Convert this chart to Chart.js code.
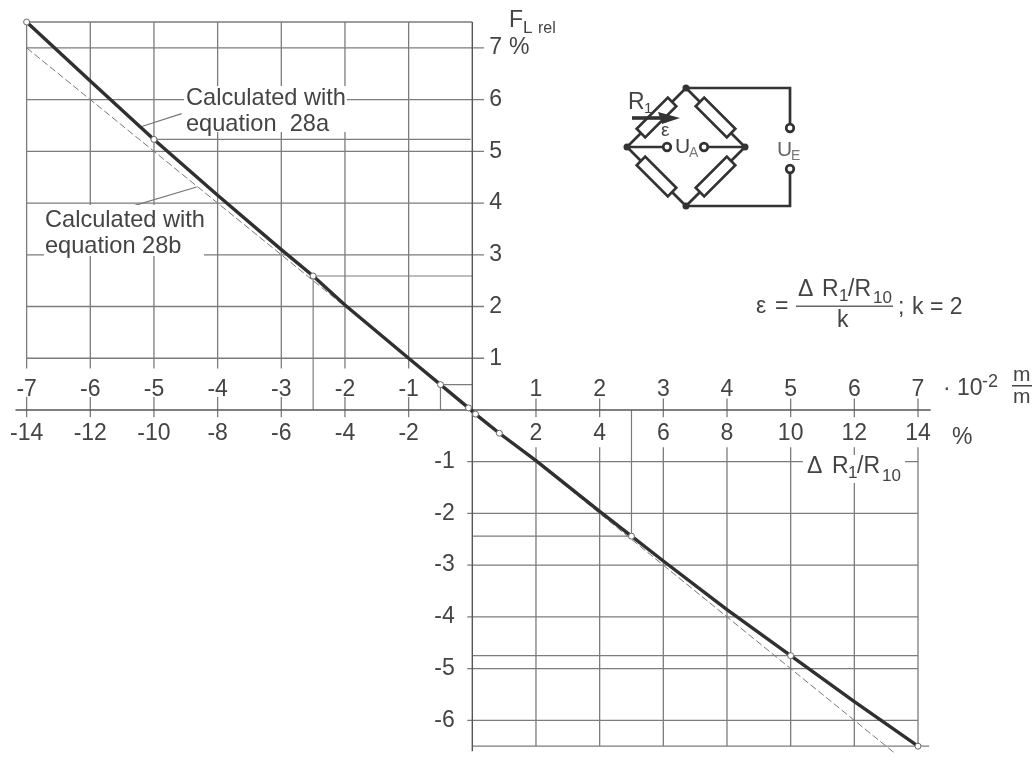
<!DOCTYPE html>
<html>
<head>
<meta charset="utf-8">
<style>
    html, body { margin: 0; padding: 0; background: #fff; }
    canvas { display: block; }
</style>
<script src="https://cdn.jsdelivr.net/npm/chart.js@4/dist/chart.umd.min.js"></script>
</head>
<body>
<canvas id="chart_bridge" width="1036" height="760"></canvas>
<script>
'use strict';

/******************************************************************************************
DATA
******************************************************************************************/

// tick labels: resistance change in %, strain in 10^-2 m/m, relative error in %
var percent_ticks = [-14, -12, -10, -8, -6, -4, -2, 2, 4, 6, 8, 10, 12, 14];
var strain_ticks = [-7, -6, -5, -4, -3, -2, -1, 1, 2, 3, 4, 5, 6, 7];
var error_ticks_up = [1, 2, 3, 4, 5, 6, 7];
var error_ticks_down = [-1, -2, -3, -4, -5, -6];

// equation 28a, thick curve
var curve_x = [-14, -12, -10, -8, -6, -5, -4, -2, -1, -0.12, 0.1, 0.85, 2, 4, 5, 6, 8, 10, 12, 14];
var curve_y = [7.5, 6.36, 5.23, 4.15, 3.1, 2.59, 2.03, 1.0, 0.49, 0.04, -0.08, -0.45, -0.98, -1.96, -2.44, -2.92, -3.86, -4.75, -5.64, -6.5];

// equation 28b, thin dashed line
var dashed_x = [-14, 13.3];
var dashed_y = [7, -6.65];

// small open circles on the curve
var mark_x = [-14, -10, -5, -1, -0.12, 0.1, 0.85, 5, 10, 14];
var mark_y = [7.5, 5.23, 2.59, 0.49, 0.04, -0.08, -0.45, -2.44, -4.75, -6.5];

// thin lines from the marked points to the axes
var drop_lines = [
    [-10, 5.23, -0.05, 5.23],
    [-5, 2.59, 0, 2.59],
    [-5, 2.59, -5, 0],
    [-1, 0.49, 0, 0.49],
    [-1, 0.49, -1, 0],
    [0, -2.44, 5, -2.44],
    [5, -2.44, 5, 0],
    [0, -4.75, 14, -4.75]
];

// leader lines of the two notes
var leader_lines = [
    [-9.13, 5.73, -10.48, 5.46],
    [-8.66, 4.31, -10.73, 3.93]
];

/******************************************************************************************
HELPERS
******************************************************************************************/

var text_color = '#444';
var font_name = '"Liberation Sans", Arial, sans-serif';

function to_points(xs, ys) {
    return xs.map(function(x, i) { return {x: x, y: ys[i]}; });
}

// list of [x1, y1, x2, y2] to points with gaps between the pieces
function segments(list) {
    var points = [];
    list.forEach(function(s) {
        points.push({x: s[0], y: s[1]}, {x: s[2], y: s[3]}, {x: null, y: null});
    });
    return points;
}

function line_set(data, color, width) {
    return {data: data, showLine: true, borderColor: color, borderWidth: width, pointRadius: 0, clip: false, spanGaps: false, tension: 0};
}

function fixed_ticks(list) {
    return function(scale) {
        scale.ticks = list.map(function(v) { return {value: v}; });
    };
}

// axes sit inside the plot, they take no room of their own
function no_width(scale) { scale.width = 0; }
function no_height(scale) { scale.height = 0; }

function tick_options(pad) {
    return {
        autoSkip: false,
        maxRotation: 0,
        minRotation: 0,
        padding: pad,
        color: text_color,
        font: {family: font_name, size: 23},
        callback: function(value) { return String(value); }
    };
}

function axis_base(min, max, position, list, fit, pad) {
    return {
        type: 'linear',
        min: min,
        max: max,
        position: position,
        grid: {display: false, drawTicks: false},
        border: {display: false},
        afterBuildTicks: fixed_ticks(list),
        afterFit: fit,
        ticks: tick_options(pad)
    };
}

/******************************************************************************************
GRID
******************************************************************************************/

var grid_pieces = [];
var top_value = 7.5;
var bottom_value = -6.5;

percent_ticks.forEach(function(x) {
    if (x < 0) {
        grid_pieces.push([x, top_value, x, 0.8]);
        grid_pieces.push([x, 0.25, x, -0.14]);
    } else {
        grid_pieces.push([x, 0.22, x, -0.14]);
        grid_pieces.push([x, -0.72, x, bottom_value]);
    }
});
error_ticks_up.forEach(function(y) {
    grid_pieces.push([-14, y, 0.37, y]);
});
error_ticks_down.forEach(function(y) {
    grid_pieces.push([-0.16, y, 14, y]);
});
grid_pieces.push([-14, top_value, 0, top_value]);
grid_pieces.push([0, bottom_value, 14.35, bottom_value]);

var axis_pieces = [
    [-14.35, 0, 14.4, 0],
    [0, top_value, 0, -6.6]
];

/******************************************************************************************
NOTES AND BRIDGE SKETCH
******************************************************************************************/

function put_text(ctx, str, x, y, size, color) {
    ctx.font = size + 'px ' + font_name;
    ctx.fillStyle = color || text_color;
    ctx.textAlign = 'left';
    ctx.textBaseline = 'alphabetic';
    ctx.fillText(str, x, y);
}

function white_box(ctx, x, y, w, h) {
    ctx.fillStyle = '#fff';
    ctx.fillRect(x, y, w, h);
}

function draw_resistor(ctx, cx, cy, angle) {
    ctx.save();
    ctx.translate(cx, cy);
    ctx.rotate(angle);
    ctx.fillStyle = '#fff';
    ctx.fillRect(-22, -6, 44, 12);
    ctx.strokeRect(-22, -6, 44, 12);
    ctx.restore();
}

function draw_dot(ctx, x, y, r, open) {
    ctx.beginPath();
    ctx.arc(x, y, r, 0, Math.PI * 2);
    if (open) {
        ctx.fillStyle = '#fff';
        ctx.fill();
        ctx.stroke();
    } else {
        ctx.fillStyle = '#333';
        ctx.fill();
    }
}

function draw_bridge(ctx) {
    ctx.save();
    ctx.strokeStyle = '#333';
    ctx.lineWidth = 2.7;

    // diamond and supply wires
    ctx.beginPath();
    ctx.moveTo(686, 88); ctx.lineTo(627, 147); ctx.lineTo(686, 206); ctx.lineTo(745, 147); ctx.closePath();
    ctx.moveTo(686, 88); ctx.lineTo(790, 88); ctx.lineTo(790, 128);
    ctx.moveTo(686, 206); ctx.lineTo(790, 206); ctx.lineTo(790, 169);
    ctx.moveTo(627, 147); ctx.lineTo(667, 147);
    ctx.moveTo(704, 147); ctx.lineTo(745, 147);
    ctx.stroke();

    draw_resistor(ctx, 656.5, 117.5, -Math.PI / 4);
    draw_resistor(ctx, 715.5, 117.5, Math.PI / 4);
    draw_resistor(ctx, 656.5, 176.5, Math.PI / 4);
    draw_resistor(ctx, 715.5, 176.5, -Math.PI / 4);

    draw_dot(ctx, 686, 88, 3.5, false);
    draw_dot(ctx, 686, 206, 3.5, false);
    draw_dot(ctx, 627, 147, 3.5, false);
    draw_dot(ctx, 745, 147, 3.5, false);
    draw_dot(ctx, 667, 147, 3.8, true);
    draw_dot(ctx, 704, 147, 3.8, true);
    draw_dot(ctx, 790, 128, 3.8, true);
    draw_dot(ctx, 790, 169, 3.8, true);

    // arrow over R1
    ctx.lineWidth = 3.6;
    ctx.beginPath();
    ctx.moveTo(632, 118); ctx.lineTo(664, 118);
    ctx.stroke();
    ctx.fillStyle = '#333';
    ctx.beginPath();
    ctx.moveTo(680, 118); ctx.lineTo(658, 112); ctx.lineTo(662, 124); ctx.closePath();
    ctx.fill();
    ctx.restore();

    put_text(ctx, 'R', 628, 109, 23);
    put_text(ctx, '1', 644, 113, 15);
    put_text(ctx, '\u03b5', 661, 136, 19);
    put_text(ctx, 'U', 675, 153, 21);
    put_text(ctx, 'A', 689, 157, 14, '#777');
    put_text(ctx, 'U', 777, 156, 21, '#666');
    put_text(ctx, 'E', 791, 160, 14, '#777');
}

function draw_notes(ctx) {
    // notes sit on white patches that cut the grid
    white_box(ctx, 184, 86, 163, 46);
    put_text(ctx, 'Calculated with', 186, 105, 23.6);
    put_text(ctx, 'equation  28a', 186, 131, 23.6);

    white_box(ctx, 44, 205, 160, 51);
    put_text(ctx, 'Calculated with', 45, 227, 23.6);
    put_text(ctx, 'equation 28b', 45, 253, 23.6);

    white_box(ctx, 803, 455, 102, 28);
    put_text(ctx, '\u0394', 807, 473, 23);
    put_text(ctx, 'R', 832, 473, 23);
    put_text(ctx, '1', 848, 478, 17);
    put_text(ctx, '/R', 857, 473, 23);
    put_text(ctx, '10', 882, 481, 17);

    // vertical axis title
    put_text(ctx, 'F', 509, 27, 23);
    put_text(ctx, 'L', 523, 33, 17);
    put_text(ctx, 'rel', 538, 33, 16);
    put_text(ctx, '%', 509, 54, 23);

    // strain unit on the right
    put_text(ctx, '\u00b7', 943, 395, 23);
    put_text(ctx, '10', 957, 395, 23);
    put_text(ctx, '-2', 982, 387, 18);
    put_text(ctx, 'm', 1013, 381, 21);
    put_text(ctx, 'm', 1013, 403, 21);
    put_text(ctx, '%', 952, 444, 23);
    ctx.fillStyle = text_color;
    ctx.fillRect(1012, 385, 20, 1.5);

    // formula
    put_text(ctx, '\u03b5', 756, 313, 23);
    put_text(ctx, '=', 775, 313, 23);
    put_text(ctx, '\u0394', 798, 296, 23);
    put_text(ctx, 'R', 822, 296, 23);
    put_text(ctx, '1', 839, 301, 17);
    put_text(ctx, '/R', 848, 296, 23);
    put_text(ctx, '10', 873, 303, 17);
    ctx.fillStyle = '#666';
    ctx.fillRect(796, 305.5, 97, 1.5);
    put_text(ctx, 'k', 837, 327, 23);
    put_text(ctx, ';', 898, 314, 23);
    put_text(ctx, 'k = 2', 912, 314, 23);
}

var sketch_plugin = {
    id: 'sketch_plugin',
    afterDatasetsDraw: function(chart) {
        draw_notes(chart.ctx);
        draw_bridge(chart.ctx);
    }
};

/******************************************************************************************
PLOT
******************************************************************************************/

var ctx = document.getElementById('chart_bridge').getContext('2d');
var bridge_chart = new Chart(ctx, {
    type: 'scatter',
    data: {
        // first dataset ends up on top
        datasets: [
            {
                data: to_points(mark_x, mark_y),
                showLine: false,
                clip: false,
                pointRadius: 3,
                pointBackgroundColor: '#fff',
                pointBorderColor: '#666',
                pointBorderWidth: 1
            },
            line_set(to_points(curve_x, curve_y), '#303030', 3.4),
            Object.assign(line_set(to_points(dashed_x, dashed_y), '#777', 1), {borderDash: [7, 3]}),
            line_set(segments(leader_lines), '#777', 1.2),
            line_set(segments(axis_pieces), '#555', 1.4),
            line_set(segments(drop_lines), '#7c7c7c', 1.2),
            line_set(segments(grid_pieces), '#7c7c7c', 1.3)
        ]
    },
    plugins: [sketch_plugin],
    options: {
        responsive: false,
        animation: false,
        events: [],
        layout: {padding: {left: 26, right: 118, top: 22, bottom: 9}},
        plugins: {legend: {display: false}, tooltip: {enabled: false}, title: {display: false}},
        scales: {
            x: axis_base(-14, 14, {y: 0}, percent_ticks, no_height, 10),
            x_strain: Object.assign(axis_base(-7, 7, {y: 0.66}, strain_ticks, no_height, 0), {axis: 'x'}),
            y: axis_base(bottom_value, top_value, {x: -0.55}, error_ticks_down, no_width, 0),
            y_up: Object.assign(axis_base(bottom_value, top_value, {x: 0.93}, error_ticks_up, no_width, 0), {axis: 'y'})
        }
    }
});
</script>
</body>
</html>
